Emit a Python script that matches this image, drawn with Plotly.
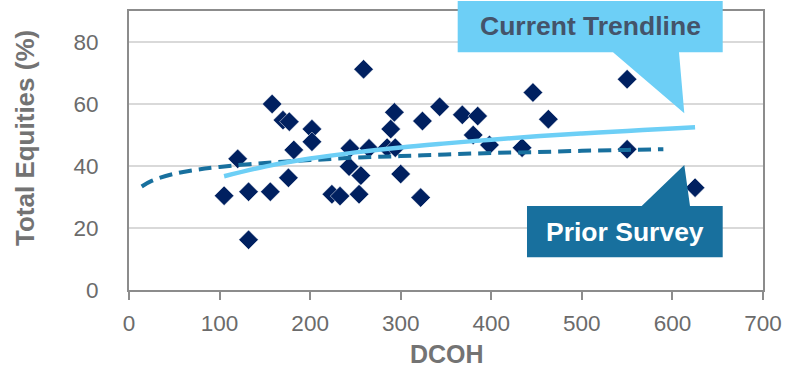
import plotly.graph_objects as go

# ---- data ----
dcoh = [105, 120, 132, 132, 156, 176, 158, 170, 177, 182, 202, 202, 224, 233, 254,
        244, 243, 256, 259, 265, 293, 289, 285, 294, 300, 322, 324, 343, 368, 385,
        380, 398, 446, 463, 434, 550, 550, 625]
equities = [30.4, 42.3, 31.7, 16.2, 31.7, 36.2, 60.0, 54.8, 54.3, 45.2, 51.9, 47.8, 30.9, 30.3, 30.9,
            45.7, 39.8, 36.9, 71.2, 45.7, 57.3, 51.9, 45.9, 45.9, 37.4, 29.8, 54.5, 59.1, 56.5, 56.1,
            50.0, 46.8, 63.7, 55.1, 45.9, 68.0, 45.4, 33.0]

current_x = [105, 150, 200, 250, 300, 350, 400, 450, 500, 550, 600, 625]
current_y = [36.7, 39.8, 42.4, 44.4, 46.0, 47.3, 48.5, 49.6, 50.5, 51.3, 52.1, 52.5]

prior_x = [14, 25, 50, 75, 100, 150, 200, 250, 300, 350, 400, 450, 500, 550, 590]
prior_y = [33.4, 35.2, 37.5, 38.8, 39.7, 41.0, 41.9, 42.7, 43.2, 43.7, 44.2, 44.5, 44.9, 45.2, 45.4]

x_ticks = [0, 100, 200, 300, 400, 500, 600, 700]
y_ticks = [0, 20, 40, 60, 80]

# ---- styling ----
W, H = 788, 370
ML, MR, MT, MB = 129, 25, 11, 80
PW, PH = W - ML - MR, H - MT - MB
FONT = "Liberation Sans"
NAVY = "#002060"
LIGHT = "#6DCFF6"
TEAL = "#18709E"
GREY = "#8C8C8C"
TICK_COLOR = "#6B6B6B"
TITLE_COLOR = "#737373"


def px(x):
    return (x - ML) / PW


def py(y):
    return (H - MB - y) / PH


fig = go.Figure()
fig.add_trace(go.Scatter(x=dcoh, y=equities, mode="markers",
                         marker=dict(symbol="diamond", size=15, color=NAVY,
                                     line=dict(width=0.5, color="white")),
                         showlegend=False, hoverinfo="x+y"))
fig.add_trace(go.Scatter(x=prior_x, y=prior_y, mode="lines", line_shape="spline",
                         line=dict(color=TEAL, width=4, dash="13px,7px"),
                         showlegend=False))
fig.add_trace(go.Scatter(x=current_x, y=current_y, mode="lines", line_shape="spline",
                         line=dict(color=LIGHT, width=4.5),
                         showlegend=False))

# callout shapes (pixel geometry converted to paper coords)
cur_path = [(457.7, 1), (722.7, 1), (722.7, 52.3), (679, 52.3), (684.3, 113.3),
            (613, 52.3), (457.7, 52.3)]
pri_path = [(527, 206), (641.7, 206), (684.3, 165), (690, 206), (722.7, 206),
            (722.7, 257.3), (527, 257.3)]


def path_str(pts):
    return "M " + " L ".join(f"{px(a):.5f},{py(b):.5f}" for a, b in pts) + " Z"


shapes = [
    dict(type="path", xref="paper", yref="paper", path=path_str(cur_path),
         fillcolor=LIGHT, line=dict(width=0), layer="above"),
    dict(type="path", xref="paper", yref="paper", path=path_str(pri_path),
         fillcolor=TEAL, line=dict(width=0), layer="above"),
]

annotations = [
    dict(text="<b>Current Trendline</b>", x=px(590.3), y=py(26), xref="paper", yref="paper",
         showarrow=False, xanchor="center", yanchor="middle",
         font=dict(family=FONT, size=26.5, color="#44546A")),
    dict(text="<b>Prior Survey</b>", x=px(624.8), y=py(231.5), xref="paper", yref="paper",
         showarrow=False, xanchor="center", yanchor="middle",
         font=dict(family=FONT, size=26.5, color="white")),
    dict(text="<b>DCOH</b>", x=px(446.5), y=py(354), xref="paper", yref="paper",
         showarrow=False, xanchor="center", yanchor="middle",
         font=dict(family=FONT, size=25, color=TITLE_COLOR)),
    dict(text="<b>Total Equities (%)</b>", x=px(25), y=py(138), xref="paper", yref="paper",
         showarrow=False, xanchor="center", yanchor="middle", textangle=-90,
         font=dict(family=FONT, size=26, color=TITLE_COLOR)),
]

fig.update_layout(
    width=W, height=H,
    margin=dict(l=ML, r=MR, t=MT, b=MB, pad=0, autoexpand=False),
    paper_bgcolor="white", plot_bgcolor="white",
    font=dict(family=FONT, size=22, color=TICK_COLOR),
    shapes=shapes, annotations=annotations,
    xaxis=dict(range=[0, 700], tickvals=x_ticks, ticktext=[str(v) for v in x_ticks],
               showgrid=False, zeroline=False, automargin=False,
               showline=True, linecolor=GREY, linewidth=2, mirror=True,
               ticks="outside", ticklen=8, tickwidth=2, tickcolor=GREY,
               ticklabelstandoff=4,
               tickfont=dict(family=FONT, size=22.5, color=TICK_COLOR)),
    yaxis=dict(range=[0, 90], tickvals=y_ticks, ticktext=[str(v) for v in y_ticks],
               showgrid=True, gridcolor="#D9D9D9", gridwidth=1.5, zeroline=False,
               automargin=False,
               showline=True, linecolor=GREY, linewidth=2, mirror=True,
               ticks="", ticklabelstandoff=24,
               tickfont=dict(family=FONT, size=22.5, color=TICK_COLOR)),
)

fig.write_html("out.html")
